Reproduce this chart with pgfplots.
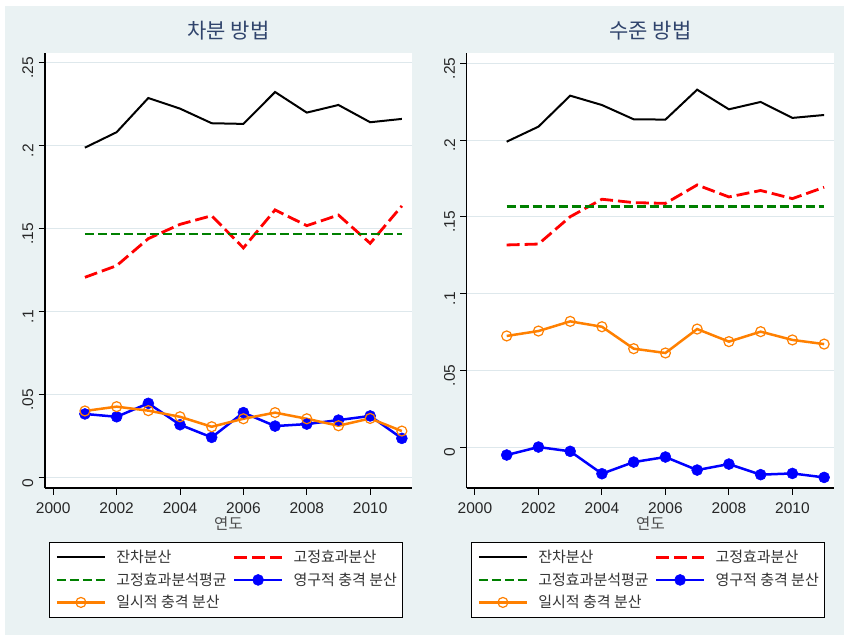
\documentclass[border=0pt]{standalone}
\usepackage{pgfplots}
\pgfplotsset{compat=1.18}
\usepackage{fontspec}
\setmainfont{Liberation Sans}
\newfontfamily\kr{Noto Sans CJK KR}
\definecolor{bgc}{RGB}{234,242,243}
\definecolor{gridc}{RGB}{222,232,236}
\definecolor{titc}{RGB}{48,68,108}
\definecolor{sorange}{RGB}{255,128,0}
\definecolor{sgreen}{RGB}{0,128,0}

\pgfplotsset{
  panel/.style={
    scale only axis,
    width=367pt, height=435pt,
    xmin=1999.74, xmax=2011.32,
    axis lines*=left,
    axis line style={line width=1.3pt, black},
    axis background/.style={fill=white},
    tick align=outside,
    major tick length=6.5pt,
    tick style={line width=1pt, black},
    xtick={2000,2002,2004,2006,2008,2010},
    xticklabels={2000,2002,2004,2006,2008,2010},
    ytick={0,0.05,0.1,0.15,0.2,0.25},
    yticklabels={0,.05,.1,.15,.2,.25},
    ymajorgrids,
    grid style={line width=1pt, gridc},
    tick label style={font=\fontsize{15.5}{17}\selectfont, text=black!85},
    xticklabel style={anchor=north, inner sep=0pt, yshift=-7.5pt},
    yticklabel style={rotate=90, anchor=south, inner sep=0pt, xshift=-5pt, yshift=5pt},
    xlabel={\kr 연도},
    xlabel style={at={(axis description cs:0.5,-0.081)}, anchor=center, font=\fontsize{15.5}{17}\selectfont, text=black!70},
    title style={at={(axis description cs:0.5,1.0368)}, anchor=center, font=\kr\fontsize{21}{24}\selectfont, text=titc},
    legend columns=2,
    legend cell align=left,
    legend image code/.code={\draw[mark repeat=2,mark phase=2,#1] plot coordinates {(0pt,0pt) (24pt,0pt) (48pt,0pt)};},
    legend style={
      anchor=north west,
      draw=black, line width=1pt, fill=white,
      font=\kr\fontsize{15}{17}\selectfont, text=black!80,
      inner xsep=6pt, inner ysep=8pt,
      row sep=8pt,
      /tikz/every odd column/.append style={column sep=10pt},
      /tikz/every even column/.append style={column sep=6pt},
      nodes={anchor=west, inner sep=0pt, text height=12.5pt, text depth=2pt},
    },
  },
  blk/.style={black, line width=2pt, no markers},
  rd/.style={red, line width=2.8pt, no markers, dash pattern=on 13pt off 5pt},
  gr/.style={sgreen, line width=2.8pt, no markers, dash pattern=on 9pt off 4pt},
  bl/.style={blue, line width=2.5pt, mark=*, mark size=5.5pt, mark options={solid, fill=blue, line width=0.5pt}},
  og/.style={sorange, line width=2.5pt, mark=o, mark size=5pt, mark options={solid, line width=1.2pt}},
}

\begin{document}
\begin{tikzpicture}
\useasboundingbox (0pt,0pt) rectangle (844pt,-635pt);
\fill[white] (0pt,0pt) rectangle (844pt,-635pt);
\fill[bgc] (5pt,-6pt) rectangle (844pt,-635pt);

% Left panel
\begin{axis}[panel, at={(45pt,-488pt)}, anchor=south west,
  ymin=-0.0062, ymax=0.2558,
  title={차분 방법},
  legend style={at={(axis description cs:0.011,-0.1234)}}]
\addplot[blk] coordinates {(2001,0.1988) (2002,0.2081) (2003,0.2287) (2004,0.2223) (2005,0.2135) (2006,0.2131) (2007,0.2323) (2008,0.2199) (2009,0.2245) (2010,0.2141) (2011,0.2161)};
\addlegendentry{잔차분산}
\addplot[rd] coordinates {(2001,0.1207) (2002,0.1277) (2003,0.1440) (2004,0.1526) (2005,0.1578) (2006,0.1384) (2007,0.1613) (2008,0.1518) (2009,0.1582) (2010,0.1412) (2011,0.1637)};
\addlegendentry{고정효과분산}
\addplot[gr] coordinates {(2001,0.1468) (2011,0.1468)};
\addlegendentry{고정효과분석평균}
\addplot[bl] coordinates {(2001,0.0384) (2002,0.0367) (2003,0.0448) (2004,0.0319) (2005,0.0243) (2006,0.0392) (2007,0.0311) (2008,0.0323) (2009,0.0347) (2010,0.0372) (2011,0.0237)};
\addlegendentry{영구적 충격 분산}
\addplot[og] coordinates {(2001,0.0402) (2002,0.0428) (2003,0.0404) (2004,0.0367) (2005,0.0307) (2006,0.0355) (2007,0.0392) (2008,0.0355) (2009,0.0313) (2010,0.0357) (2011,0.0281)};
\addlegendentry{일시적 충격 분산}
\end{axis}

% Right panel
\begin{axis}[panel, at={(466.7pt,-488pt)}, anchor=south west, width=367.6pt,
  ymin=-0.0267, ymax=0.2568,
  title={수준 방법},
  legend style={at={(axis description cs:0.0117,-0.1234)}}]
\addplot[blk] coordinates {(2001,0.1990) (2002,0.2088) (2003,0.2290) (2004,0.2229) (2005,0.2136) (2006,0.2134) (2007,0.2329) (2008,0.2201) (2009,0.2249) (2010,0.2145) (2011,0.2164)};
\addlegendentry{잔차분산}
\addplot[rd] coordinates {(2001,0.1317) (2002,0.1323) (2003,0.1501) (2004,0.1615) (2005,0.1593) (2006,0.1588) (2007,0.1708) (2008,0.1630) (2009,0.1672) (2010,0.1619) (2011,0.1693)};
\addlegendentry{고정효과분산}
\addplot[gr] coordinates {(2001,0.1569) (2011,0.1569)};
\addlegendentry{고정효과분석평균}
\addplot[bl] coordinates {(2001,-0.0052) (2002,0.0000) (2003,-0.0028) (2004,-0.0174) (2005,-0.0098) (2006,-0.0065) (2007,-0.0150) (2008,-0.0111) (2009,-0.0180) (2010,-0.0172) (2011,-0.0198)};
\addlegendentry{영구적 충격 분산}
\addplot[og] coordinates {(2001,0.0724) (2002,0.0756) (2003,0.0819) (2004,0.0784) (2005,0.0641) (2006,0.0613) (2007,0.0769) (2008,0.0687) (2009,0.0752) (2010,0.0698) (2011,0.0671)};
\addlegendentry{일시적 충격 분산}
\end{axis}
\end{tikzpicture}
\end{document}
